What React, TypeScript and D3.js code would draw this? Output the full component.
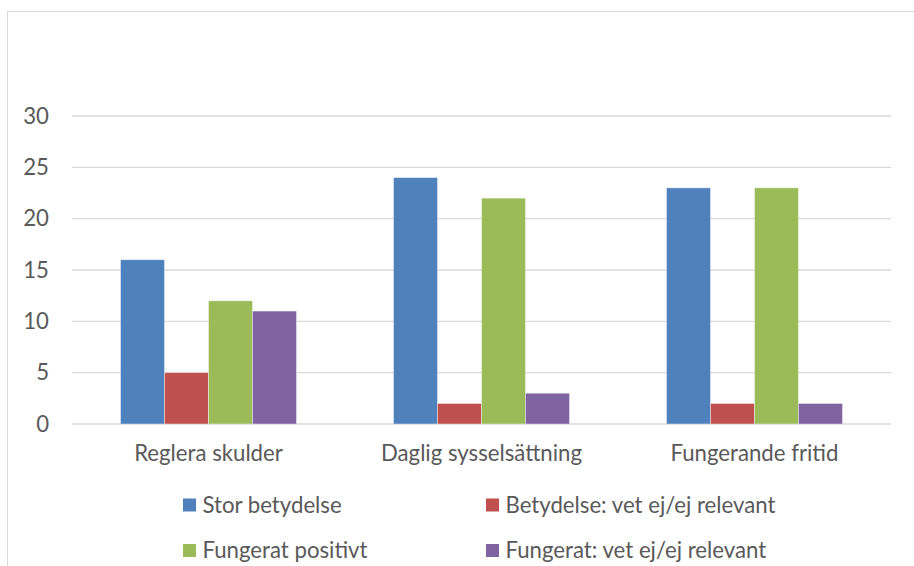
import { useEffect, useRef } from "react";
import * as d3 from "d3";

// Chart data
const categories = ["Reglera skulder", "Daglig sysselsättning", "Fungerande fritid"];
const seriesNames = [
    "Stor betydelse",
    "Betydelse: vet ej/ej relevant",
    "Fungerat positivt",
    "Fungerat: vet ej/ej relevant",
];
const storBetydelse = [16, 24, 23];
const betydelseVetEj = [5, 2, 2];
const fungeratPositivt = [12, 22, 23];
const fungeratVetEj = [11, 3, 2];
const yTicks = [0, 5, 10, 15, 20, 25, 30];

const colors = ["#4F81BD", "#C0504D", "#9BBB59", "#8064A2"];

export default function App() {
    const svgRef = useRef<SVGSVGElement | null>(null);

    useEffect(() => {
        document.body.style.margin = "0";

        const width = 914;
        const height = 566;
        const marginLeft = 72;
        const marginRight = 23;
        const plotTop = 116;
        const plotBottom = 424;
        const font = "Lato, 'Noto Sans', sans-serif";
        const textColor = "#595959";
        const fontSize = 22.2;

        const values = [storBetydelse, betydelseVetEj, fungeratPositivt, fungeratVetEj];

        const svg = d3.select(svgRef.current)
            .attr("width", width)
            .attr("height", height)
            .attr("viewBox", [0, 0, width, height].join(" "));

        svg.selectAll("*").remove();

        svg.append("rect")
            .attr("width", width)
            .attr("height", height)
            .attr("fill", "#fff");

        // chart frame (runs off the right and bottom edge)
        svg.append("rect")
            .attr("x", 7.5)
            .attr("y", 11.5)
            .attr("width", width + 10)
            .attr("height", height + 10)
            .attr("fill", "none")
            .attr("stroke", "#D9D9D9")
            .attr("stroke-width", 1);

        const x0 = d3.scaleBand<string>()
            .domain(categories)
            .range([marginLeft, width - marginRight]);

        const groupFrac = 176 / 273;
        const bw = x0.bandwidth();
        const x1 = d3.scaleBand<string>()
            .domain(seriesNames)
            .range([bw * (1 - groupFrac) / 2, bw * (1 + groupFrac) / 2]);

        const y = d3.scaleLinear()
            .domain([0, 30])
            .range([plotBottom, plotTop]);

        // gridlines + y labels
        const grid = svg.append("g");
        grid.selectAll("line")
            .data(yTicks)
            .enter()
            .append("line")
            .attr("x1", marginLeft)
            .attr("x2", width - marginRight)
            .attr("y1", d => y(d))
            .attr("y2", d => y(d))
            .attr("stroke", "#D9D9D9")
            .attr("stroke-width", 1.3);

        grid.selectAll("text")
            .data(yTicks)
            .enter()
            .append("text")
            .attr("x", 49)
            .attr("y", d => y(d))
            .attr("dy", "0.35em")
            .attr("text-anchor", "end")
            .attr("font-family", font)
            .attr("font-size", fontSize)
            .attr("fill", textColor)
            .text(d => d);

        // bars
        const groups = svg.append("g")
            .selectAll("g")
            .data(categories)
            .enter()
            .append("g")
            .attr("transform", d => `translate(${x0(d)},0)`);

        groups.selectAll("rect")
            .data((_, i) => seriesNames.map((s, j) => ({ s, j, v: values[j][i] })))
            .enter()
            .append("rect")
            .attr("x", d => x1(d.s) as number)
            .attr("width", x1.bandwidth())
            .attr("y", d => y(d.v))
            .attr("height", d => y(0) - y(d.v))
            .attr("fill", d => colors[d.j])
            .attr("stroke", "#fff")
            .attr("stroke-opacity", 0.5)
            .attr("stroke-width", 0.8);

        // category labels
        svg.append("g")
            .selectAll("text")
            .data(categories)
            .enter()
            .append("text")
            .attr("x", d => (x0(d) as number) + bw / 2)
            .attr("y", 453)
            .attr("dy", "0.35em")
            .attr("text-anchor", "middle")
            .attr("font-family", font)
            .attr("font-size", fontSize)
            .attr("fill", textColor)
            .text(d => d);

        // legend
        const legendPos = [
            { x: 183, y: 505 },
            { x: 486, y: 505 },
            { x: 183, y: 550.5 },
            { x: 486, y: 550.5 },
        ];
        const legend = svg.append("g")
            .selectAll("g")
            .data(seriesNames)
            .enter()
            .append("g")
            .attr("transform", (_, i) => `translate(${legendPos[i].x},${legendPos[i].y})`);

        legend.append("rect")
            .attr("x", 0)
            .attr("y", -6.5)
            .attr("width", 13)
            .attr("height", 13)
            .attr("fill", (_, i) => colors[i]);

        legend.append("text")
            .attr("x", 19.5)
            .attr("y", 0)
            .attr("dy", "0.35em")
            .attr("font-family", font)
            .attr("font-size", fontSize)
            .attr("fill", textColor)
            .text(d => d);
    }, []);

    return <svg ref={svgRef} style={{ display: "block" }} />;
}
